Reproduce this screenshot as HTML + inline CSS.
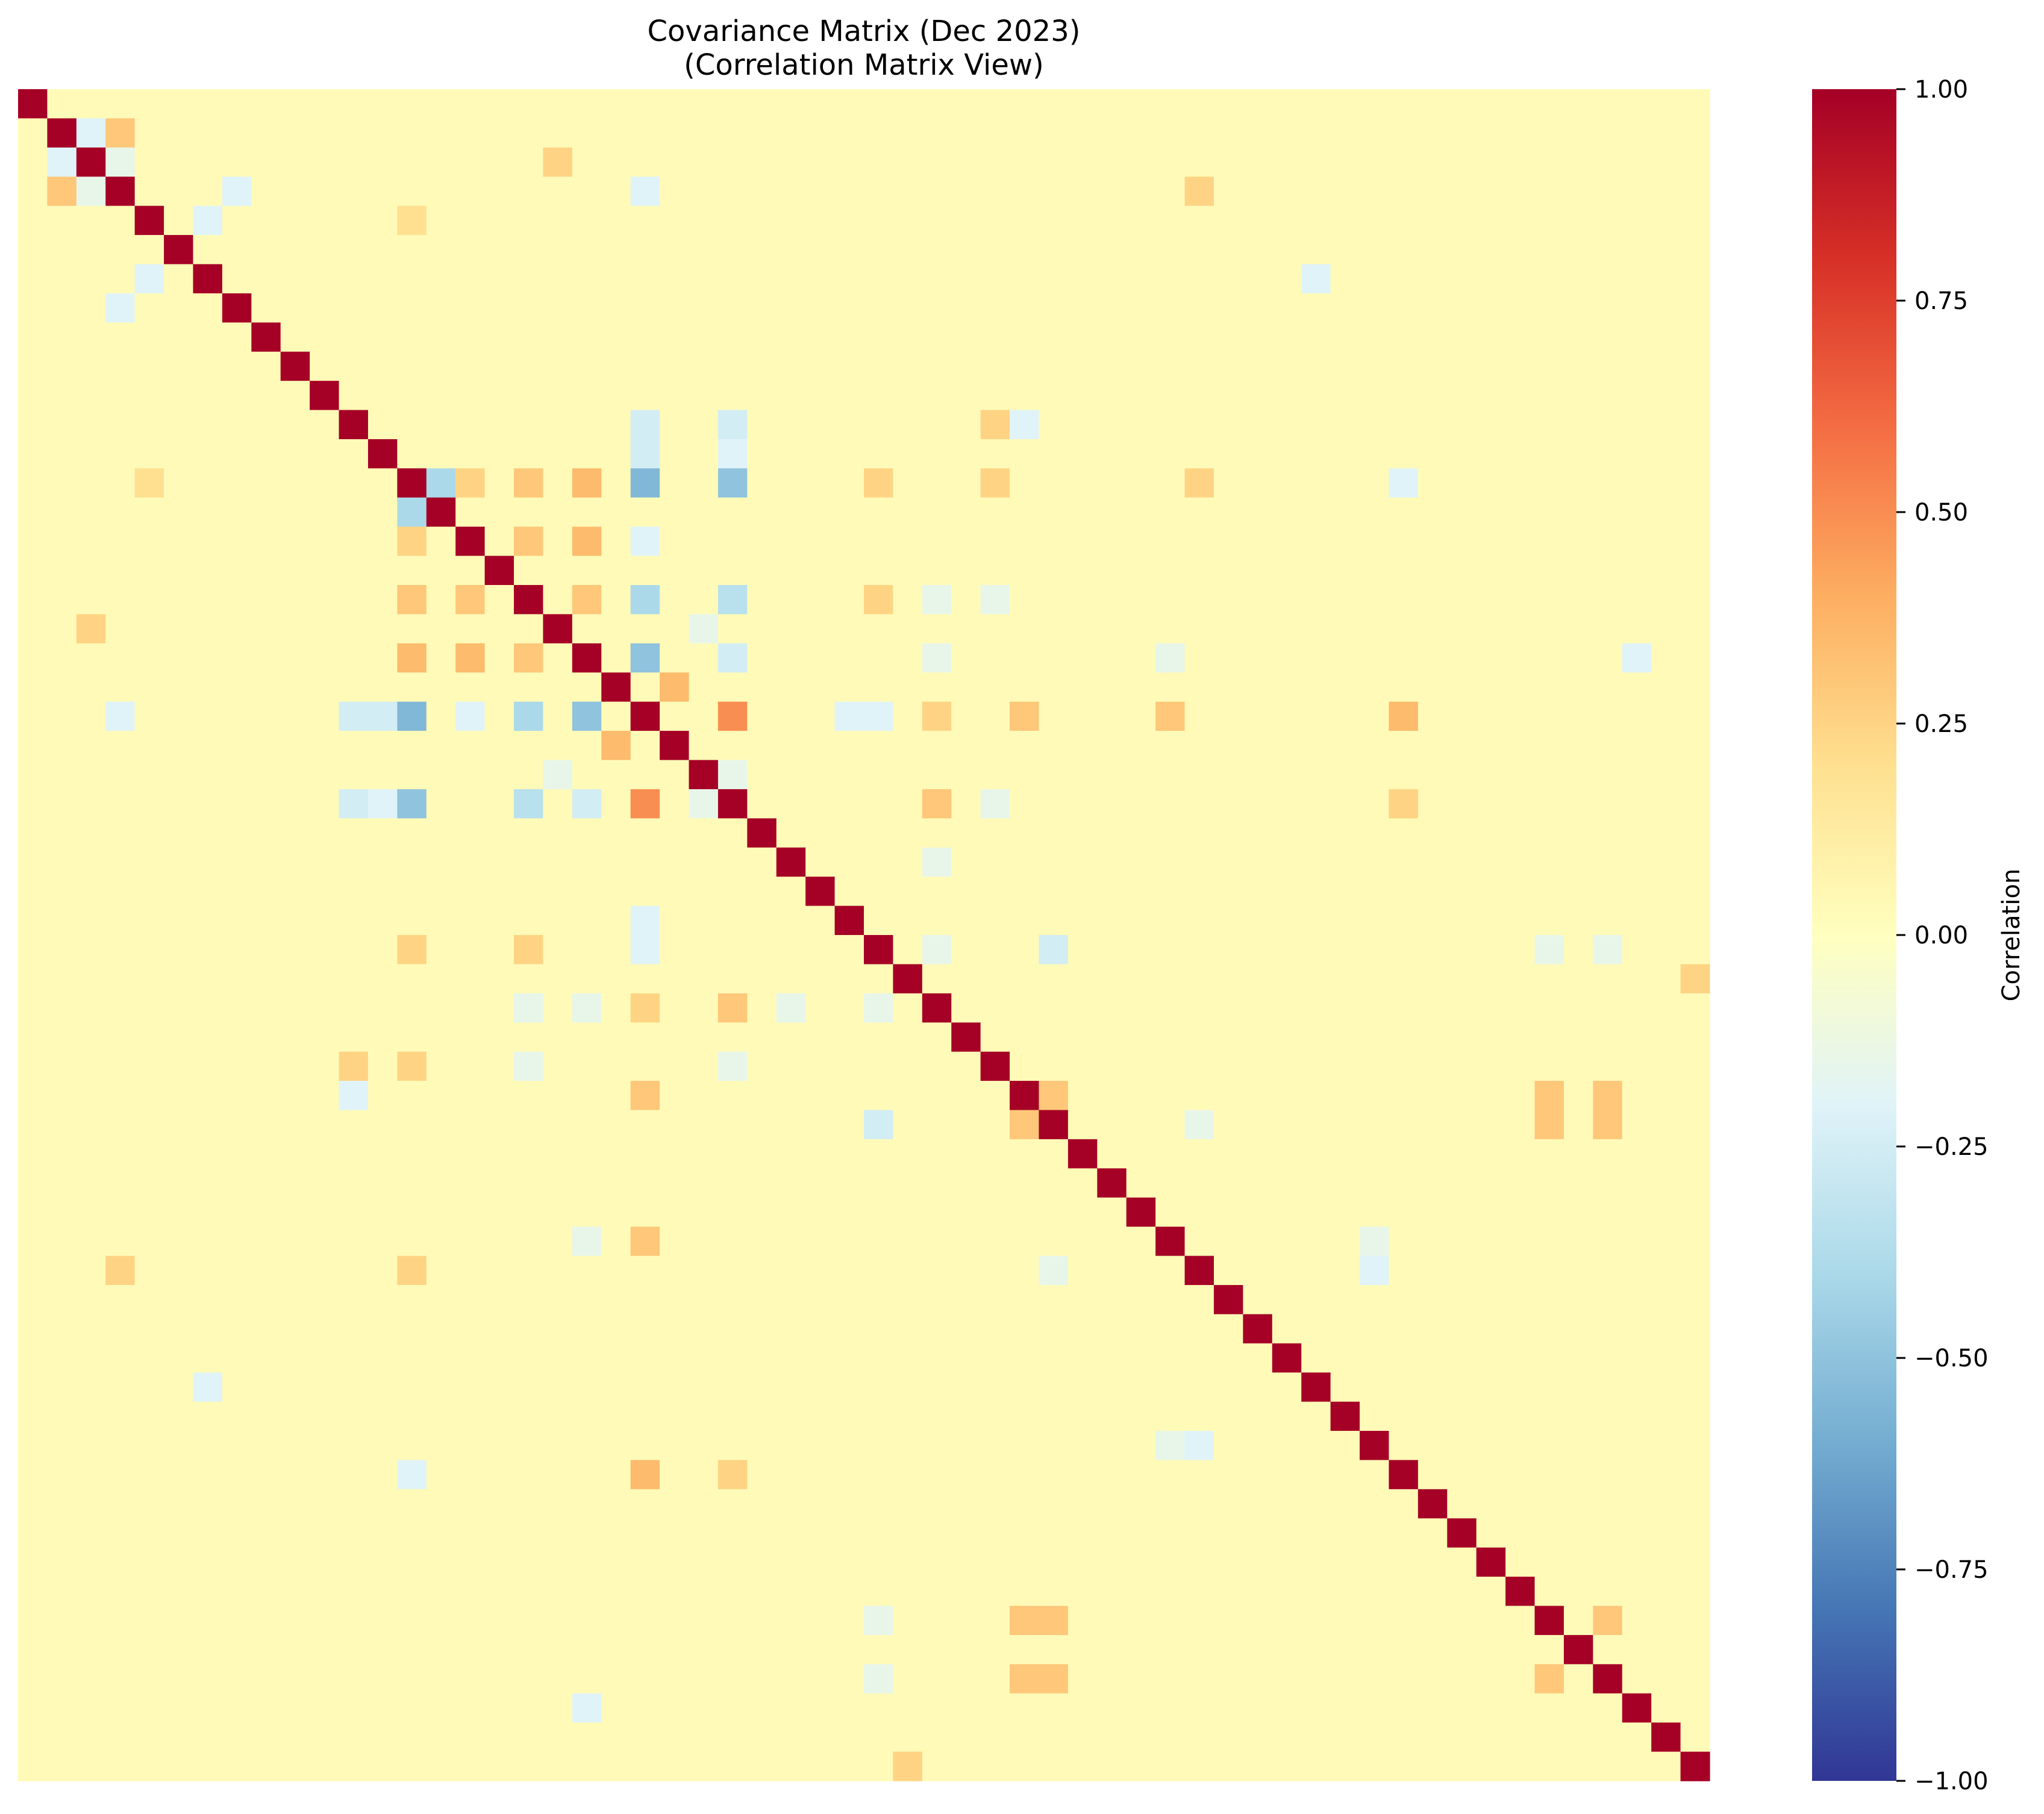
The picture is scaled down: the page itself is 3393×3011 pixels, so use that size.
<!DOCTYPE html>
<html><head><meta charset="utf-8"><style>
body{margin:0;background:#fff;}
svg text{font-family:"DejaVu Sans","Liberation Sans",sans-serif;fill:#000;}
</style></head><body>
<svg id="chart" width="3393" height="3006" viewBox="0 0 3393 3006" xmlns="http://www.w3.org/2000/svg">
<text x="1434" y="68" font-size="48" text-anchor="middle">Covariance Matrix (Dec 2023)</text>
<text x="1434" y="124" font-size="48" text-anchor="middle">(Correlation Matrix View)</text>
<g id="cells"></g>
<defs><linearGradient id="cg" x1="0" y1="1" x2="0" y2="0"></linearGradient></defs>
<rect id="cbar" x="3008" y="148" width="140" height="2808"/>
<g id="cticks"></g>
<text transform="translate(3352,1552) rotate(-90)" font-size="40" text-anchor="middle">Correlation</text>
</svg>
<script>
// Matrix size and off-diagonal baseline (read as pale yellow)
const matrixSize = 58;
const baselineValue = 0.03;
// Notable off-diagonal correlations (symmetric pairs)
const pairRows = [1,1,2,3,3,4,4,6,7,11,11,12,12,13,13,13,13,13,14,15,15,15,17,17,17,17,18,18,19,19,19,19,19,20,21,21,21,21,21,21,22,23,24,24,24,24,3,6,11,11,13,13,13,13,17,17,17,19,19,19,21,21,21,21,21,24,24,24,26,29,29,29,29,30,34,34,34,35,35,35,35,40,39,52,21];
const pairCols = [2,3,3,7,21,6,13,4,3,21,24,21,24,21,24,14,19,15,13,21,17,19,21,24,13,15,2,23,21,24,13,15,17,22,13,3,11,12,15,28,20,24,21,11,12,17,40,44,34,33,47,29,33,40,31,33,29,31,39,55,29,34,39,47,31,31,33,47,31,35,31,52,54,57,35,52,54,29,40,52,54,46,46,54,24];
const pairVals = [-0.2,0.3,-0.15,-0.15,-0.2,-0.2,0.2,-0.2,-0.2,-0.3,-0.3,-0.35,-0.25,-0.55,-0.5,-0.35,0.3,0.25,-0.4,-0.25,0.3,0.35,-0.4,-0.35,0.3,0.3,0.25,-0.15,-0.5,-0.25,0.35,0.35,0.3,0.35,-0.55,-0.2,-0.25,-0.25,-0.2,-0.2,0.35,-0.15,0.5,-0.25,-0.2,-0.35,0.25,-0.2,-0.2,0.25,-0.2,0.25,0.25,0.25,-0.15,-0.15,0.25,-0.15,-0.15,-0.2,-0.2,0.3,0.3,0.35,0.25,0.3,-0.15,0.25,-0.15,-0.25,-0.15,-0.15,-0.15,0.25,0.3,0.3,0.3,-0.25,-0.15,0.3,0.3,-0.2,-0.15,0.3,0.5];
const tickValues = [1.0,0.75,0.5,0.25,0.0,-0.25,-0.5,-0.75,-1.0];
const tickLabels = ["1.00","0.75","0.50","0.25","0.00","\u22120.25","\u22120.50","\u22120.75","\u22121.00"];

const NS="http://www.w3.org/2000/svg";
const stops=[[-1,"#313695"],[-0.8,"#4575b4"],[-0.6,"#74add1"],[-0.4,"#abd9e9"],[-0.2,"#e0f3f8"],[0,"#ffffbf"],[0.2,"#fee090"],[0.4,"#fdae61"],[0.6,"#f46d43"],[0.8,"#d73027"],[1,"#a50026"]];
function hex(h){return [1,3,5].map(i=>parseInt(h.substr(i,2),16));}
function color(v){
  v=Math.max(-1,Math.min(1,v));
  for(let i=0;i<stops.length-1;i++){
    if(v<=stops[i+1][0]){const t=(v-stops[i][0])/(stops[i+1][0]-stops[i][0]);
      const a=hex(stops[i][1]),b=hex(stops[i+1][1]);
      return "rgb("+a.map((c,k)=>Math.round(c+(b[k]-c)*t)).join(",")+")";}
  }
  return stops[stops.length-1][1];
}
const x0=30,y0=148,side=2808,cell=side/matrixSize;
const xPos=j=>x0+j*cell, yPos=i=>y0+i*cell;
const M=[];
for(let i=0;i<matrixSize;i++){M.push([]);for(let j=0;j<matrixSize;j++)M[i].push(i===j?1:baselineValue);}
pairRows.forEach((r,k)=>{const c=pairCols[k];M[r][c]=pairVals[k];M[c][r]=pairVals[k];});
const g=document.getElementById("cells");
for(let i=0;i<matrixSize;i++)for(let j=0;j<matrixSize;j++){
  const r=document.createElementNS(NS,"rect");
  r.setAttribute("x",xPos(j));r.setAttribute("y",yPos(i));
  r.setAttribute("width",cell+0.6);r.setAttribute("height",cell+0.6);
  r.setAttribute("fill",color(M[i][j]));
  
  
  g.appendChild(r);
}
const grad=document.getElementById("cg");
stops.forEach(s=>{const st=document.createElementNS(NS,"stop");st.setAttribute("offset",((s[0]+1)/2*100)+"%");st.setAttribute("stop-color",s[1]);grad.appendChild(st);});
document.getElementById("cbar").setAttribute("fill","url(#cg)");
const cY=v=>148+(1-v)/2*2808;
const tg=document.getElementById("cticks");
tickValues.forEach((v,k)=>{
  const l=document.createElementNS(NS,"line");
  l.setAttribute("x1",3148);l.setAttribute("x2",3163);l.setAttribute("y1",cY(v));l.setAttribute("y2",cY(v));
  l.setAttribute("stroke","#000");l.setAttribute("stroke-width",3);
  
  
  tg.appendChild(l);
  const t=document.createElementNS(NS,"text");
  t.setAttribute("x",3178);t.setAttribute("y",cY(v)+14);t.setAttribute("font-size","40");
  t.textContent=tickLabels[k];
  
  
  tg.appendChild(t);
});
</script>
</body></html>
